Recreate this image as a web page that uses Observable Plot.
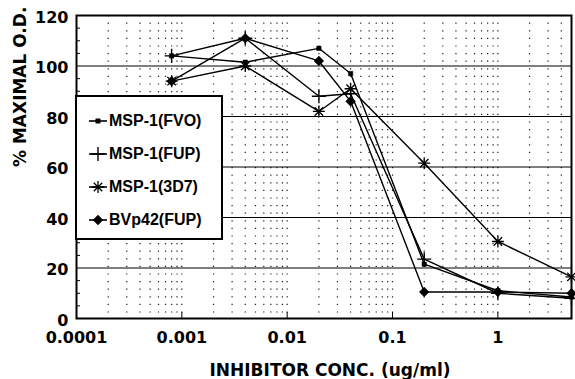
<!DOCTYPE html>
<html>
<head>
<meta charset="utf-8">
<script src="https://cdn.jsdelivr.net/npm/d3@7"></script>
<script src="https://cdn.jsdelivr.net/npm/@observablehq/plot@0.6"></script>
<style>
  html, body { margin: 0; padding: 0; background: #fff; }
  #wrap { position: relative; width: 575px; height: 379px; }
  #legend {
    position: absolute; left: 75px; top: 95px; width: 144px; height: 141px;
    border: 2px solid #000; background: #fff;
    font-family: "Liberation Sans", Arial, sans-serif; font-weight: bold; font-size: 16px;
  }
  .row { position: absolute; left: 0; height: 20px; display: flex; align-items: center; }
  .row svg { margin-left: 11px; margin-right: 1px; }
</style>
</head>
<body>
<div id="wrap"></div>
<script>
// ---- data ----
const conc = [0.0008, 0.004, 0.02, 0.04, 0.2, 1, 5];
const seriesNames = ["MSP-1(FVO)", "MSP-1(FUP)", "MSP-1(3D7)", "BVp42(FUP)"];
const fvo  = [104, 101.5, 107, 97, 21.5, 11, 8.5];
const fup  = [104, 111, 88, 89, 23.5, 10, 8];
const d3d7 = [94, 100, 82, 91, 61.5, 30.5, 16.5];
const bvp  = [94, 111, 102, 86, 10.5, 10.5, 10];
const yTicks = [0, 20, 40, 60, 80, 100, 120];
const yMinor = [5,10,15,25,30,35,45,50,55,65,70,75,85,90,95,105,110,115];
const xDecades = [0.0001, 0.001, 0.01, 0.1, 1];
const xLabels = ["0.0001", "0.001", "0.01", "0.1", "1"];

const values = [fvo, fup, d3d7, bvp];
const rows = seriesNames.flatMap((s, i) => conc.map((c, j) => ({series: s, conc: c, value: values[i][j]})));
const bySeries = s => rows.filter(d => d.series === s);

// minor vertical grid positions (1..9 per decade)
const xGrid = xDecades.flatMap(d => d3.range(1, 10).map(k => +(k * d).toPrecision(3))).filter(v => v > 0.0001 && v < 5);

// 8-arm asterisk
const asterisk8 = {
  draw(ctx, size) {
    const r = Math.sqrt(size / Math.PI);
    for (const a of [0, Math.PI / 4, Math.PI / 2, 3 * Math.PI / 4]) {
      ctx.moveTo(r * Math.cos(a), r * Math.sin(a));
      ctx.lineTo(-r * Math.cos(a), -r * Math.sin(a));
    }
  }
};
const symbols = [
  {symbol: "square", r: 2.5, fill: "black", stroke: "black", sw: 0.5},
  {symbol: "plus", r: 4.6, fill: "none", stroke: "black", sw: 1.4},
  {symbol: asterisk8, r: 6, fill: "none", stroke: "black", sw: 1.3},
  {symbol: "diamond2", r: 4.4, fill: "black", stroke: "black", sw: 0.5}
];

const tickFont = {fontSize: 16, fontWeight: "bold", fontFamily: "DejaVu Sans"};
const xLabelOf = d => xLabels[xDecades.findIndex(v => Math.abs(v - d) < 1e-12)] ?? String(d);

const chart = Plot.plot({
  width: 575, height: 379,
  marginLeft: 76, marginRight: 4, marginTop: 15, marginBottom: 61,
  style: {background: "white", color: "black", overflow: "visible"},
  x: {type: "log", domain: [0.0001, 5], axis: null},
  y: {domain: [0, 120], axis: null},
  marks: [
    Plot.ruleX(xGrid, {stroke: "black", strokeWidth: 1.2, strokeDasharray: "1.2,6.4", strokeOpacity: 0.9}),
    Plot.ruleY(yTicks.filter(v => v > 0 && v < 120), {stroke: "black", strokeWidth: 1.2}),
    Plot.axisY(yMinor, {tickSize: 4, dx: 4, tickFormat: () => "", label: null, strokeWidth: 1}),
    Plot.axisX(xDecades.slice(1), {tickSize: 6, dy: -6, tickFormat: () => "", label: null, strokeWidth: 1}),
    Plot.axisY(yTicks, {tickSize: 0, tickPadding: 8, dy: 2, tickFormat: d => String(d), label: null, ...tickFont}),
    Plot.axisX(xDecades, {tickSize: 0, tickPadding: 13, tickFormat: xLabelOf, label: null, ...tickFont}),
    Plot.text(["% MAXIMAL O.D."], {frameAnchor: "left", dx: -56, rotate: -90, fontSize: 17, fontWeight: "bold", fontFamily: "DejaVu Sans"}),
    Plot.text(["INHIBITOR CONC. (ug/ml)"], {frameAnchor: "bottom", dy: 52, dx: 6, lineAnchor: "middle", fontSize: 17, fontWeight: "bold", fontFamily: "DejaVu Sans"}),
    Plot.line(rows, {x: "conc", y: "value", z: "series", stroke: "black", strokeWidth: 1.4}),
    ...seriesNames.map((s, i) => Plot.dot(bySeries(s), {x: "conc", y: "value", symbol: symbols[i].symbol, r: symbols[i].r, fill: symbols[i].fill, stroke: symbols[i].stroke, strokeWidth: symbols[i].sw})),
    Plot.frame({stroke: "black", strokeWidth: 2})
  ]
});

const wrap = document.getElementById("wrap");
wrap.appendChild(chart);

// legend
const legend = document.createElement("div");
legend.id = "legend";
const rowTops = [14, 47, 80, 113];
seriesNames.forEach((s, i) => {
  const row = document.createElement("div");
  row.className = "row";
  row.style.top = rowTops[i] + "px";
  const sym = symbols[i];
  const type = typeof sym.symbol === "string"
    ? {square: d3.symbolSquare, plus: d3.symbolPlus, diamond2: d3.symbolDiamond2}[sym.symbol]
    : sym.symbol;
  const path = d3.symbol().type(type).size(Math.PI * sym.r * sym.r)();
  row.innerHTML = `<svg width="20" height="20" viewBox="-10 -10 20 20">
      <line x1="-9" x2="9" y1="0" y2="0" stroke="black" stroke-width="1.6"/>
      <path d="${path}" fill="${sym.fill}" stroke="${sym.stroke}" stroke-width="${sym.sw}"/>
    </svg><span>${s}</span>`;
  legend.appendChild(row);
});
wrap.appendChild(legend);
</script>
</body>
</html>
